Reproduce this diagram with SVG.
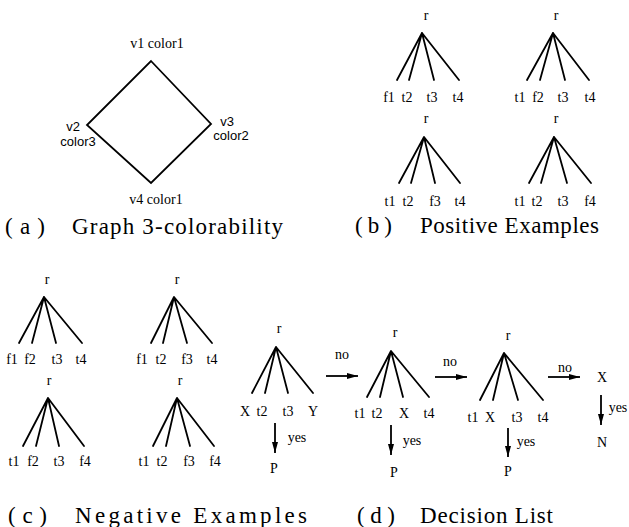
<svg xmlns="http://www.w3.org/2000/svg" width="629" height="527" viewBox="0 0 629 527">
<style>
.bg{fill:#fff}
.ln{stroke:#000;stroke-width:1.8;fill:none;stroke-linecap:round}
.ar{stroke:#000;stroke-width:1.8;fill:none}
.lb{font-family:"Liberation Serif","Times New Roman",serif;font-size:14px;fill:#000;text-anchor:middle}
.ls{font-family:"Liberation Sans",Arial,sans-serif;font-size:13px;fill:#000;text-anchor:middle}
.tt{font-family:"Liberation Serif","Times New Roman",serif;font-size:23px;fill:#000}
</style>
<defs>
<marker id="ah" markerUnits="userSpaceOnUse" markerWidth="12" markerHeight="10" refX="11" refY="4" orient="auto">
<path d="M0,1 L11,4 L0,7 Z" fill="#000"/>
</marker>
</defs>
<rect class="bg" x="0" y="0" width="629" height="527"/>

<!-- (a) Graph -->
<g id="graph">
<path class="ln" d="M151,61 L211,124 L151,183 L87,125 Z"/>
<text class="lb" x="157" y="48">v1 color1</text>
<text class="ls" x="73" y="131">v2</text>
<text class="ls" x="78" y="146">color3</text>
<text class="ls" x="227" y="126">v3</text>
<text class="ls" x="231" y="140">color2</text>
<text class="lb" x="156" y="204">v4 color1</text>
</g>
<text class="tt" x="5" y="234" textLength="40" lengthAdjust="spacing">( a )</text>
<text class="tt" x="72" y="234" textLength="211" lengthAdjust="spacing">Graph 3-colorability</text>

<!-- (b) Positive examples -->
<g id="pos1">
<text class="lb" x="426" y="20">r</text>
<path class="ln" d="M422,33 L397,80 M422,33 L409,80 M422,33 L434,80 M422,33 L459,80"/>
<text class="lb" x="389" y="102">f1</text><text class="lb" x="407" y="102">t2</text><text class="lb" x="432" y="102">t3</text><text class="lb" x="458" y="102">t4</text>
</g>
<g id="pos2">
<text class="lb" x="556" y="20">r</text>
<path class="ln" d="M553,33 L527,80 M553,33 L540,80 M553,33 L565,80 M553,33 L589,80"/>
<text class="lb" x="520" y="102">t1</text><text class="lb" x="538" y="102">f2</text><text class="lb" x="563" y="102">t3</text><text class="lb" x="590" y="102">t4</text>
</g>
<g id="pos3">
<text class="lb" x="426" y="123">r</text>
<path class="ln" d="M424,137 L399,183 M424,137 L411,183 M424,137 L435,183 M424,137 L460,183"/>
<text class="lb" x="390" y="206">t1</text><text class="lb" x="408" y="206">t2</text><text class="lb" x="435" y="206">f3</text><text class="lb" x="460" y="206">t4</text>
</g>
<g id="pos4">
<text class="lb" x="556" y="123">r</text>
<path class="ln" d="M554,137 L529,183 M554,137 L541,183 M554,137 L567,183 M554,137 L591,183"/>
<text class="lb" x="520" y="206">t1</text><text class="lb" x="537" y="206">t2</text><text class="lb" x="563" y="206">t3</text><text class="lb" x="590" y="206">f4</text>
</g>
<text class="tt" x="355" y="233" textLength="37" lengthAdjust="spacing">( b )</text>
<text class="tt" x="420" y="233" textLength="179" lengthAdjust="spacing">Positive Examples</text>

<!-- (c) Negative examples -->
<g id="neg1">
<text class="lb" x="47" y="284">r</text>
<path class="ln" d="M44,297 L19,343 M44,297 L32,343 M44,297 L56,343 M44,297 L82,343"/>
<text class="lb" x="12" y="364">f1</text><text class="lb" x="30" y="364">f2</text><text class="lb" x="57" y="364">t3</text><text class="lb" x="81" y="364">t4</text>
</g>
<g id="neg2">
<text class="lb" x="177" y="284">r</text>
<path class="ln" d="M174,297 L151,343 M174,297 L163,343 M174,297 L187,343 M174,297 L212,343"/>
<text class="lb" x="142" y="364">f1</text><text class="lb" x="161" y="364">t2</text><text class="lb" x="187" y="364">f3</text><text class="lb" x="212" y="364">t4</text>
</g>
<g id="neg3">
<text class="lb" x="49" y="385">r</text>
<path class="ln" d="M48,398 L23,446 M48,398 L36,446 M48,398 L59,446 M48,398 L84,446"/>
<text class="lb" x="14" y="466">t1</text><text class="lb" x="33" y="466">f2</text><text class="lb" x="59" y="466">t3</text><text class="lb" x="85" y="466">f4</text>
</g>
<g id="neg4">
<text class="lb" x="180" y="385">r</text>
<path class="ln" d="M177,398 L153,446 M177,398 L166,446 M177,398 L190,446 M177,398 L214,446"/>
<text class="lb" x="144" y="466">t1</text><text class="lb" x="162" y="466">t2</text><text class="lb" x="189" y="466">f3</text><text class="lb" x="215" y="466">f4</text>
</g>
<text class="tt" x="8" y="523" textLength="39" lengthAdjust="spacing">( c )</text>
<text class="tt" x="75" y="523" textLength="232" lengthAdjust="spacing">Negative Examples</text>

<!-- (d) Decision list -->
<g id="rule1">
<text class="lb" x="279" y="333">r</text>
<path class="ln" d="M276,347 L252,393 M276,347 L265,393 M276,347 L288,393 M276,347 L313,393"/>
<text class="lb" x="245" y="416">X</text><text class="lb" x="262" y="416">t2</text><text class="lb" x="288" y="416">t3</text><text class="lb" x="313" y="416">Y</text>
<text class="lb" x="274" y="473">P</text>
</g>
<g id="rule2">
<text class="lb" x="395" y="337">r</text>
<path class="ln" d="M391,351 L367,397 M391,351 L380,397 M391,351 L403,397 M391,351 L429,397"/>
<text class="lb" x="360" y="418">t1</text><text class="lb" x="377" y="418">t2</text><text class="lb" x="404" y="418">X</text><text class="lb" x="429" y="418">t4</text>
<text class="lb" x="394" y="477">P</text>
</g>
<g id="rule3">
<text class="lb" x="508" y="340">r</text>
<path class="ln" d="M504,353 L480,400 M504,353 L493,400 M504,353 L518,400 M504,353 L543,400"/>
<text class="lb" x="473" y="422">t1</text><text class="lb" x="490" y="422">X</text><text class="lb" x="517" y="422">t3</text><text class="lb" x="543" y="422">t4</text>
<text class="lb" x="508" y="476">P</text>
</g>
<g id="default">
<text class="lb" x="602" y="382">X</text>
<text class="lb" x="602" y="447">N</text>
</g>
<g id="connectors">
<path class="ar" d="M326,376 L358,376" marker-end="url(#ah)"/>
<path class="ar" d="M435,377 L467,377" marker-end="url(#ah)"/>
<path class="ar" d="M548,377 L580,377" marker-end="url(#ah)"/>
<path class="ar" d="M275,423 L275,453" marker-end="url(#ah)"/>
<path class="ar" d="M391,425 L391,455" marker-end="url(#ah)"/>
<path class="ar" d="M508,428 L508,457" marker-end="url(#ah)"/>
<path class="ar" d="M601,395 L601,425" marker-end="url(#ah)"/>
<text class="lb" x="342" y="359">no</text>
<text class="lb" x="450" y="366">no</text>
<text class="lb" x="565" y="372">no</text>
<text class="lb" x="297" y="442">yes</text>
<text class="lb" x="412" y="445">yes</text>
<text class="lb" x="526" y="446">yes</text>
<text class="lb" x="618" y="412">yes</text>
</g>
<text class="tt" x="357" y="523" textLength="38" lengthAdjust="spacing">( d )</text>
<text class="tt" x="420" y="523" textLength="133" lengthAdjust="spacing">Decision List</text>
</svg>
